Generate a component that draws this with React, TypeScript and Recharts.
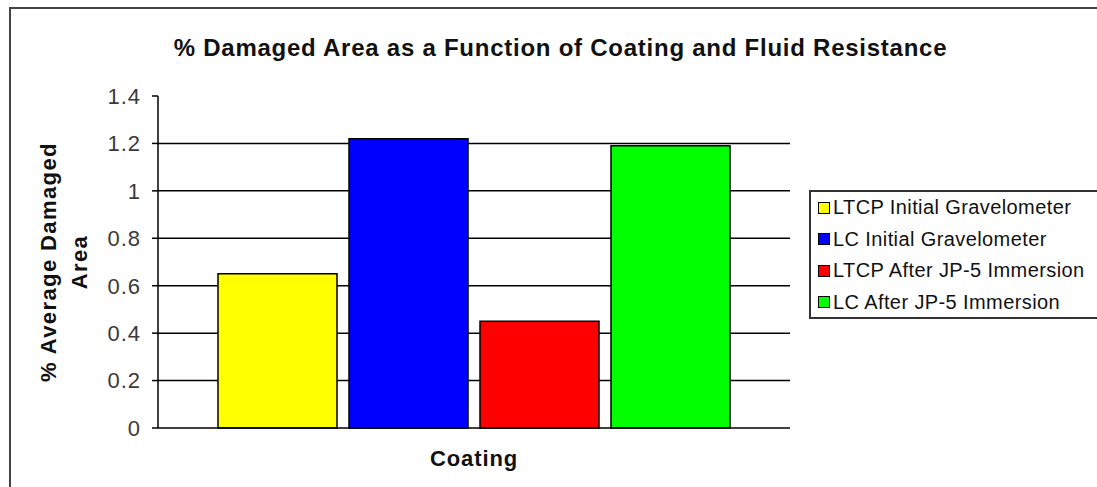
import { Bar, BarChart, CartesianGrid, Legend, XAxis, YAxis } from 'recharts';

const categories = [''];
const seriesKeys = ['ltcpInitial', 'lcInitial', 'ltcpJp5', 'lcJp5'];
const seriesNames = [
  'LTCP Initial Gravelometer',
  'LC Initial Gravelometer',
  'LTCP After JP-5 Immersion',
  'LC After JP-5 Immersion',
];
const seriesValues = [0.65, 1.22, 0.45, 1.19];
const seriesColors = ['#FFFF00', '#0000FF', '#FF0000', '#00FF00'];
const yTicks = [0, 0.2, 0.4, 0.6, 0.8, 1, 1.2, 1.4];
const gridValues = [0.2, 0.4, 0.6, 0.8, 1, 1.2];

const FONT = '"Liberation Sans", Arial, sans-serif';

const data = categories.map(name => {
  const row: Record<string, string | number> = { name };
  seriesKeys.forEach((k, i) => { row[k] = seriesValues[i]; });
  return row;
});

function YTitle({ viewBox }: any) {
  const cy = viewBox.y + viewBox.height / 2;
  const x1 = viewBox.x + 36;
  const x2 = viewBox.x + 67;
  const common = { textAnchor: 'middle' as const, fontSize: 22, fontWeight: 700, fill: '#111', letterSpacing: 1.4, fontFamily: FONT };
  return (
    <g>
      <text x={x1} y={cy} transform={`rotate(-90 ${x1} ${cy})`} {...common}>% Average Damaged</text>
      <text x={x2} y={cy} transform={`rotate(-90 ${x2} ${cy})`} {...common}>Area</text>
    </g>
  );
}

// keep legend rows in series order (recharts sorts by name otherwise)
function LegendBox({ payload }: any) {
  const items = [...(payload ?? [])].sort((a: any, b: any) => seriesNames.indexOf(a.value) - seriesNames.indexOf(b.value));
  return (
    <div style={{
      width: 300, height: 129, boxSizing: 'border-box', border: '2px solid #333', borderRight: 'none',
      background: '#fff', fontFamily: FONT, fontSize: 20, letterSpacing: 0.4, color: '#111',
    }}>
      {items.map((p: any) => (
        <div key={p.value} style={{ height: 31.5, display: 'flex', alignItems: 'center', paddingLeft: 7 }}>
          <span style={{ width: 10, height: 10, background: p.color, border: '1.5px solid #000', marginRight: 3, flexShrink: 0 }} />
          <span style={{ whiteSpace: 'nowrap' }}>{p.value}</span>
        </div>
      ))}
    </div>
  );
}

export default function App() {
  return (
    <div style={{ position: 'relative', width: 1097, height: 487, overflow: 'hidden', background: '#fff', fontFamily: FONT }}>
      <style>{'body{margin:0}'}</style>
      <div style={{ position: 'absolute', left: 9, top: 7, width: 1200, height: 600, border: '2px solid #444' }} />
      <div style={{
        position: 'absolute', left: 0, top: 34, width: 1121, textAlign: 'center', fontSize: 24, lineHeight: '27px',
        fontWeight: 700, letterSpacing: 0.75, color: '#111',
      }}>
        % Damaged Area as a Function of Coating and Fluid Resistance
      </div>
      <div style={{ position: 'absolute', left: 0, top: 0 }}>
        <BarChart width={1097} height={487} data={data} barSize={119} barGap={12}
          margin={{ top: 96, right: 307, bottom: 0, left: 20 }}>
          <CartesianGrid horizontal vertical={false} horizontalValues={gridValues} stroke="#000" strokeWidth={1.5} />
          <XAxis dataKey="name" height={59} tick={false} tickLine={false}
            axisLine={{ stroke: '#000', strokeWidth: 1.5 }}
            label={{ value: 'Coating', position: 'insideBottom', offset: 21, fontSize: 22, fontWeight: 700, fill: '#111', letterSpacing: 0.9 }} />
          <YAxis width={138} domain={[0, 1.4]} ticks={yTicks} interval={0} tickSize={6} tickMargin={11}
            axisLine={{ stroke: '#000', strokeWidth: 1.5 }} tickLine={{ stroke: '#000', strokeWidth: 1.5 }}
            tick={{ fill: '#3a3a3a', fontSize: 22, letterSpacing: 1 }}
            label={<YTitle />} />
          <Legend layout="vertical" align="center" verticalAlign="middle" content={<LegendBox />}
            wrapperStyle={{ left: 809, top: 190, width: 300 }} />
          {seriesKeys.map((k, i) => (
            <Bar key={k} dataKey={k} name={seriesNames[i]} fill={seriesColors[i]} stroke="#000" strokeWidth={1.5}
              isAnimationActive={false} />
          ))}
        </BarChart>
      </div>
    </div>
  );
}
